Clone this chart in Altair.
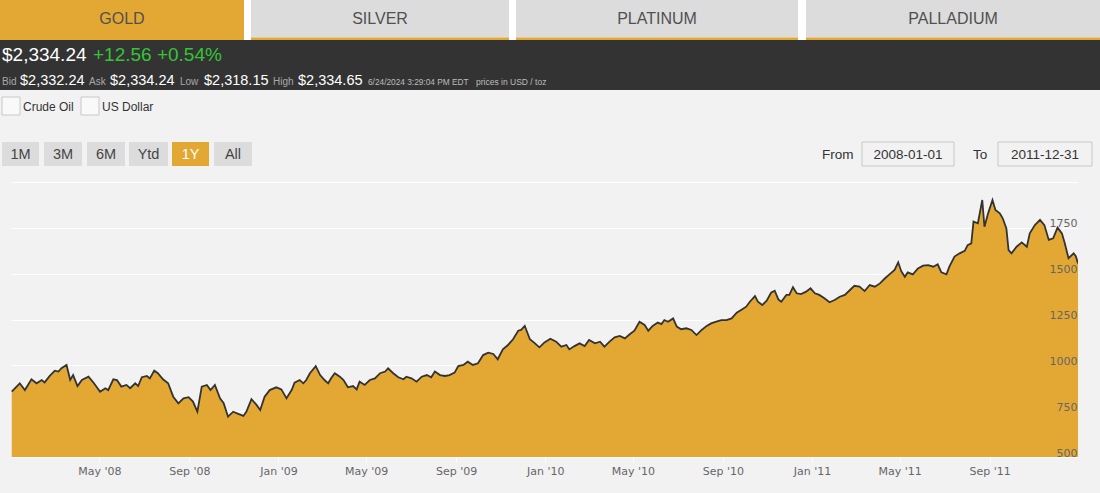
import altair as alt
import pandas as pd

# ---------------- data ----------------
dates = [
    "2008-01-02", "2008-01-13", "2008-01-20", "2008-01-29", "2008-02-05", "2008-02-12", "2008-02-16",
    "2008-02-23", "2008-03-01", "2008-03-06", "2008-03-10", "2008-03-17", "2008-03-22", "2008-03-26",
    "2008-04-01", "2008-04-07", "2008-04-16", "2008-04-23", "2008-05-02", "2008-05-09", "2008-05-13",
    "2008-05-20", "2008-05-25", "2008-05-31", "2008-06-07", "2008-06-12", "2008-06-19", "2008-06-23",
    "2008-06-28", "2008-07-05", "2008-07-09", "2008-07-15", "2008-07-20", "2008-07-27", "2008-08-03",
    "2008-08-10", "2008-08-17", "2008-08-24", "2008-08-31", "2008-09-06", "2008-09-12", "2008-09-18",
    "2008-09-25", "2008-09-30", "2008-10-06", "2008-10-13", "2008-10-18", "2008-10-24", "2008-10-31",
    "2008-11-07", "2008-11-14", "2008-11-18", "2008-11-25", "2008-12-02", "2008-12-07", "2008-12-13",
    "2008-12-20", "2008-12-29", "2009-01-05", "2009-01-12", "2009-01-19", "2009-01-23", "2009-01-30",
    "2009-02-04", "2009-02-08", "2009-02-13", "2009-02-21", "2009-02-27", "2009-03-05", "2009-03-10",
    "2009-03-14", "2009-03-19", "2009-03-26", "2009-03-31", "2009-04-06", "2009-04-13", "2009-04-18",
    "2009-04-22", "2009-04-29", "2009-05-06", "2009-05-13", "2009-05-20", "2009-05-27", "2009-05-31",
    "2009-06-07", "2009-06-14", "2009-06-21", "2009-06-25", "2009-07-02", "2009-07-09", "2009-07-16",
    "2009-07-23", "2009-07-29", "2009-08-03", "2009-08-10", "2009-08-17", "2009-08-23", "2009-08-30",
    "2009-09-04", "2009-09-11", "2009-09-17", "2009-09-24", "2009-10-01", "2009-10-08", "2009-10-15",
    "2009-10-22", "2009-10-28", "2009-11-04", "2009-11-11", "2009-11-18", "2009-11-25", "2009-11-29",
    "2009-12-04", "2009-12-11", "2009-12-18", "2009-12-24", "2009-12-31", "2010-01-08", "2010-01-16",
    "2010-01-23", "2010-01-30", "2010-02-03", "2010-02-10", "2010-02-17", "2010-02-24", "2010-03-02",
    "2010-03-10", "2010-03-17", "2010-03-23", "2010-03-30", "2010-04-06", "2010-04-13", "2010-04-20",
    "2010-04-27", "2010-05-03", "2010-05-10", "2010-05-17", "2010-05-22", "2010-05-28", "2010-06-04",
    "2010-06-09", "2010-06-13", "2010-06-18", "2010-06-25", "2010-06-30", "2010-07-06", "2010-07-13",
    "2010-07-20", "2010-07-27", "2010-08-03", "2010-08-10", "2010-08-16", "2010-08-23", "2010-08-30",
    "2010-09-06", "2010-09-13", "2010-09-20", "2010-09-26", "2010-10-03", "2010-10-08", "2010-10-15",
    "2010-10-19", "2010-10-25", "2010-10-31", "2010-11-06", "2010-11-11", "2010-11-16", "2010-11-20",
    "2010-11-27", "2010-12-01", "2010-12-06", "2010-12-11", "2010-12-17", "2010-12-24", "2010-12-30",
    "2011-01-05", "2011-01-11", "2011-01-18", "2011-01-25", "2011-02-01", "2011-02-08", "2011-02-15",
    "2011-02-22", "2011-02-28", "2011-03-07", "2011-03-14", "2011-03-21", "2011-03-28", "2011-04-04",
    "2011-04-11", "2011-04-17", "2011-04-24", "2011-04-29", "2011-05-03", "2011-05-08", "2011-05-12",
    "2011-05-19", "2011-05-26", "2011-06-02", "2011-06-09", "2011-06-16", "2011-06-22", "2011-06-27",
    "2011-07-04", "2011-07-08", "2011-07-15", "2011-07-22", "2011-07-29", "2011-08-02", "2011-08-07",
    "2011-08-10", "2011-08-16", "2011-08-22", "2011-08-25", "2011-08-30", "2011-09-05", "2011-09-09",
    "2011-09-15", "2011-09-19", "2011-09-24", "2011-09-27", "2011-10-01", "2011-10-08", "2011-10-15",
    "2011-10-22", "2011-10-26", "2011-11-02", "2011-11-09", "2011-11-15", "2011-11-21", "2011-11-27",
    "2011-12-03", "2011-12-09", "2011-12-13", "2011-12-18", "2011-12-25", "2011-12-28", "2011-12-31",
]
prices = [
    856, 902, 865, 924, 902, 920, 907,
    942, 971, 966, 984, 1002, 920, 947,
    887, 920, 938, 905, 856, 875, 865,
    924, 920, 884, 893, 875, 902, 887,
    935, 942, 929, 971, 957, 924, 902,
    829, 793, 820, 826, 802, 747, 884,
    893, 865, 893, 820, 793, 720, 747,
    735, 724, 747, 815, 784, 756, 829,
    865, 880, 869, 820, 865, 905, 920,
    902, 920, 957, 996, 947, 920, 902,
    929, 957, 938, 920, 880, 887, 869,
    911, 893, 920, 929, 957, 966, 984,
    957, 935, 924, 938, 929, 911, 938,
    947, 935, 966, 947, 942, 947, 960,
    996, 1002, 1020, 1002, 1011, 1056, 1069,
    1062, 1033, 1087, 1111, 1142, 1189, 1193,
    1215, 1142, 1120, 1098, 1125, 1145, 1129,
    1102, 1111, 1087, 1105, 1120, 1105, 1138,
    1120, 1129, 1102, 1129, 1153, 1160, 1147,
    1171, 1189, 1238, 1220, 1189, 1215, 1233,
    1225, 1247, 1238, 1256, 1211, 1197, 1202,
    1193, 1165, 1193, 1215, 1229, 1238, 1247,
    1247, 1256, 1287, 1302, 1320, 1347, 1378,
    1347, 1329, 1353, 1396, 1407, 1360, 1347,
    1384, 1384, 1426, 1393, 1389, 1402, 1420,
    1393, 1384, 1366, 1344, 1356, 1374, 1384,
    1411, 1434, 1429, 1405, 1438, 1429, 1447,
    1475, 1496, 1520, 1562, 1515, 1483, 1507,
    1496, 1529, 1544, 1547, 1538, 1551, 1507,
    1496, 1538, 1593, 1611, 1624, 1656, 1665,
    1784, 1775, 1902, 1756, 1829, 1902, 1847,
    1829, 1802, 1747, 1629, 1611, 1647, 1671,
    1647, 1720, 1765, 1793, 1765, 1684, 1693,
    1751, 1720, 1665, 1584, 1611, 1595, 1556,
]
x_tick_months = [(2008, 5), (2008, 9), (2009, 1), (2009, 5), (2009, 9), (2010, 1),
                 (2010, 5), (2010, 9), (2011, 1), (2011, 5), (2011, 9)]
y_grid_values = [500, 750, 1000, 1250, 1500, 1750, 2000]
y_label_values = [500, 750, 1000, 1250, 1500, 1750]

tabs = ["GOLD", "SILVER", "PLATINUM", "PALLADIUM"]
last_price = "$2,334.24"
change_text = "+12.56 +0.54%"
quote_labels = ["Bid", "Ask", "Low", "High"]
quote_values = ["$2,332.24", "$2,334.24", "$2,318.15", "$2,334.65"]
timestamp = "6/24/2024 3:29:04 PM EDT"
units = "prices in USD / toz"
overlays = ["Crude Oil", "US Dollar"]
range_buttons = ["1M", "3M", "6M", "Ytd", "1Y", "All"]
from_date = "2008-01-01"
to_date = "2011-12-31"

# ---------------- layout / style ----------------
GOLD = "#E3A833"
BG = "#F2F2F2"
L, T = 11, 182          # plot origin in page pixels
W, H = 1067, 275        # plot size
UI_FONT = "Liberation Sans"
AX_FONT = "DejaVu Sans"

one = pd.DataFrame({"k": [0]})
layers = []


def rect(x1, y1, x2, y2, fill, stroke=None):
    kw = dict(color=fill)
    if stroke:
        kw.update(stroke=stroke, strokeWidth=1)
    layers.append(
        alt.Chart(one).mark_rect(**kw).encode(
            x=alt.value(x1 - L), x2=alt.value(x2 - L),
            y=alt.value(y1 - T), y2=alt.value(y2 - T)))


def text(x, y, s, size, color, align="left", baseline="middle"):
    layers.append(
        alt.Chart(one).mark_text(align=align, baseline=baseline, fontSize=size,
                                 font=UI_FONT, color=color).encode(
            x=alt.value(x - L), y=alt.value(y - T), text=alt.value(s)))


# tab strip
rect(0, 0, 1100, 40, "white")
tab_spans = [(0, 244), (251, 509), (516, 798), (806, 1100)]
for i, (name, (a, b)) in enumerate(zip(tabs, tab_spans)):
    if i == 0:
        rect(a, 0, b, 40, GOLD)
    else:
        rect(a, 0, b, 37.5, "#DCDCDC")
        rect(a, 37.5, b, 40, GOLD)
    text((a + b) / 2, 18.5, name, 16, "#505050", align="center")

# quote bar
rect(0, 40, 1100, 90, "#333333")
text(2, 60.5, last_price, 19, "white", baseline="alphabetic")
text(93, 60.5, change_text, 19, "#36C436", baseline="alphabetic")
lab_x = [2, 89, 180, 273]
val_x = [20, 110, 204, 298]
for lab, lx, val, vx in zip(quote_labels, lab_x, quote_values, val_x):
    text(lx, 85, lab, 10, "#A8A8A8", baseline="alphabetic")
    text(vx, 85, val, 14.5, "white", baseline="alphabetic")
text(368, 85, timestamp, 8.3, "#BDBDBD", baseline="alphabetic")
text(476, 85, units, 8.5, "#BDBDBD", baseline="alphabetic")

# overlay checkboxes
for name, bx in zip(overlays, [2, 81]):
    rect(bx, 97, bx + 18, 115, "#F9F9F9", stroke="#C8C8C8")
    text(bx + 21, 106.5, name, 12, "#333333")

# range buttons
btn_spans = [(2, 39), (44, 82), (87, 125), (129, 168), (172, 209), (214, 252)]
for name, (a, b) in zip(range_buttons, btn_spans):
    active = name == "1Y"
    rect(a, 142, b, 166, GOLD if active else "#DCDCDC")
    text((a + b) / 2, 154.5, name, 14.5, "white" if active else "#444444", align="center")

# date inputs
text(822, 154.5, "From", 13.5, "#333333")
rect(862, 142, 954, 166, "#F2F2F2", stroke="#C8C8C8")
text(908, 154.5, from_date, 13.5, "#333333", align="center")
text(973, 154.5, "To", 13.5, "#333333")
rect(998, 142, 1092, 166, "#F2F2F2", stroke="#C8C8C8")
text(1045, 154.5, to_date, 13.5, "#333333", align="center")

# ---------------- price chart ----------------
df = pd.DataFrame({"date": dates, "price": prices})

x_scale = alt.Scale(type="utc", domain=[alt.DateTime(year=2008, month=1, date=1, utc=True),
                                        alt.DateTime(year=2011, month=12, date=31, utc=True)])
x_axis = alt.Axis(values=[alt.DateTime(year=y, month=m, date=1, utc=True) for y, m in x_tick_months],
                  format="%b '%y", title=None, grid=False, labelFont=AX_FONT, labelFontSize=11,
                  labelColor="#666666", domainColor="white", domainWidth=1, tickColor="white",
                  tickSize=5, labelPadding=3, labelFlush=False, labelOverlap=False)
y_scale = alt.Scale(domain=[500, 2000], nice=False, zero=False)

grid_axis = alt.Axis(orient="left", values=y_grid_values, grid=True, gridColor="white", gridWidth=1,
                     labels=False, ticks=False, domain=False, title=None)
label_axis = alt.Axis(orient="right", values=y_label_values, grid=False, ticks=False, domain=False,
                      title=None, format="d", labelAlign="right", labelPadding=-1,
                      labelBaseline="alphabetic", labelOffset=-1, labelFont=AX_FONT,
                      labelFontSize=11, labelColor="#666666", zindex=1)

area = alt.Chart(df).mark_area(color=GOLD, opacity=1, clip=True).encode(
    x=alt.X("date:T", scale=x_scale, axis=x_axis),
    y=alt.Y("price:Q", scale=y_scale, axis=grid_axis),
)
line = alt.Chart(df).mark_line(color="#333333", strokeWidth=1.8, clip=True).encode(
    x=alt.X("date:T", scale=x_scale, axis=x_axis),
    y=alt.Y("price:Q", scale=y_scale, axis=label_axis),
)

chart = alt.layer(*layers, area, line).resolve_axis(y="independent").properties(
    width=W, height=H,
    padding={"left": L, "top": T, "right": 1100 - L - W, "bottom": 493 - T - H},
    autosize=alt.AutoSizeParams(type="none"),
    background=BG,
).configure_view(strokeWidth=0)

chart.save("out.html", embed_options={"renderer": "svg", "actions": False})
